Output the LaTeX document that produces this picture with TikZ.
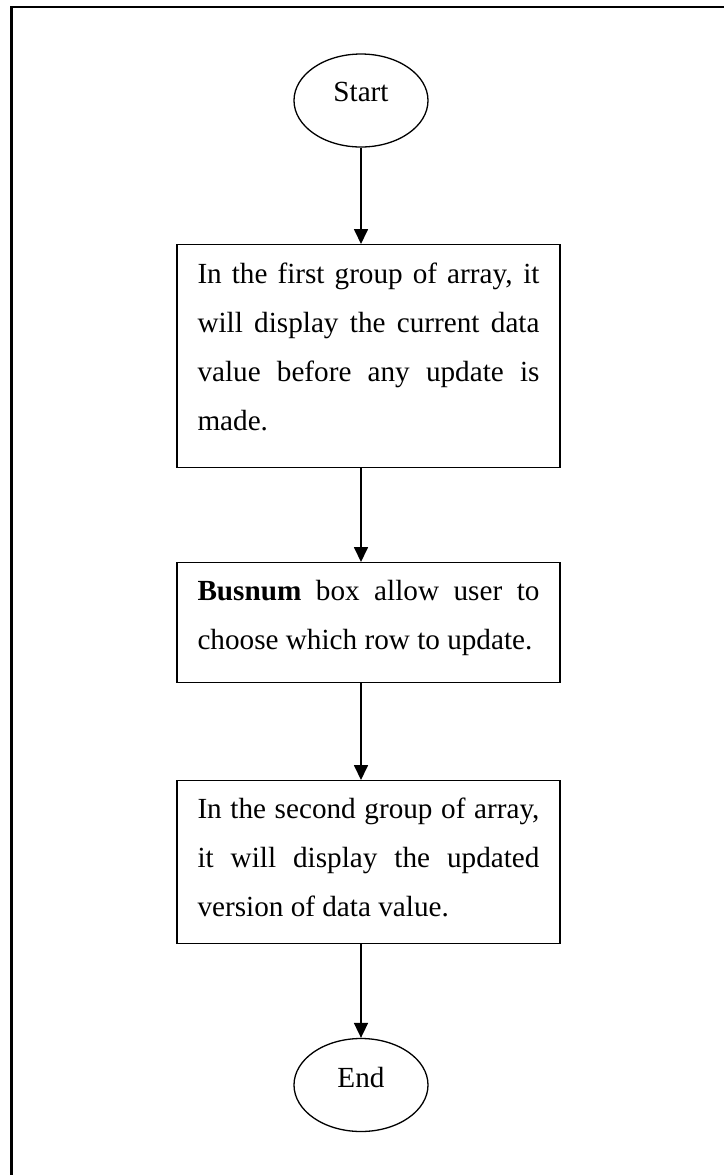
\documentclass[tikz,border=0pt]{standalone}
\usepackage{fontspec}
\setmainfont{Liberation Serif}
\usetikzlibrary{arrows.meta,shapes.geometric}

% justified paragraph set inside a process box; first baseline is the box baseline
\newcommand\flowpar[1]{\parbox[t]{171pt}{\fontsize{14.6}{24.5}\selectfont
  \tolerance=10000 \hbadness=10000 #1}}

\tikzset{
  terminal/.style={draw, ellipse, line width=0.65pt, inner sep=0pt,
    minimum width=67pt, minimum height=46.5pt,
    font=\fontsize{14.6}{17}\selectfont},
  stepbox/.style={draw, rectangle, line width=0.65pt, anchor=north,
    inner xsep=10.25pt, inner ysep=0pt},
  flow/.style={line width=0.85pt, -{Triangle[width=7pt,length=7.5pt]}},
  frameline/.style={line width=1.1pt},
}

\begin{document}
\begin{tikzpicture}[x=0.5pt, y=-0.5pt]
  \useasboundingbox (0,0) rectangle (724,1175);

  % page frame (only its top and left edges lie inside the sheet)
  \draw[frameline] (11.5,1175) |- (724,7);

  % terminals
  \node[terminal, text height=8pt, text depth=6.8pt] (start) at (361,100.5) {Start};
  \node[terminal, text height=8pt, text depth=5.3pt] (end) at (361,1085) {End};

  % process steps
  \node[stepbox, text height=19.5pt, text depth=92pt] (box1) at (368.5,244)
    {\flowpar{In the first group of array, it\linebreak
      will display the current data\linebreak
      value before any update is\linebreak
      made.}};
  \node[stepbox, text height=19pt, text depth=41pt] (box2) at (368.5,562)
    {\flowpar{\textbf{Busnum} box allow user to\linebreak
      choose which row to update.}};
  \node[stepbox, text height=19pt, text depth=62.25pt] (box3) at (368.5,780)
    {\flowpar{In the second group of array,\linebreak
      it will display the updated\linebreak
      version of data value.}};

  % connectors
  \draw[flow] (start.south) -- (start.south |- box1.north);
  \draw[flow] (box1.south -| start.south) -- (box2.north -| start.south);
  \draw[flow] (box2.south -| start.south) -- (box3.north -| start.south);
  \draw[flow] (box3.south -| start.south) -- (end.north);
\end{tikzpicture}
\end{document}
